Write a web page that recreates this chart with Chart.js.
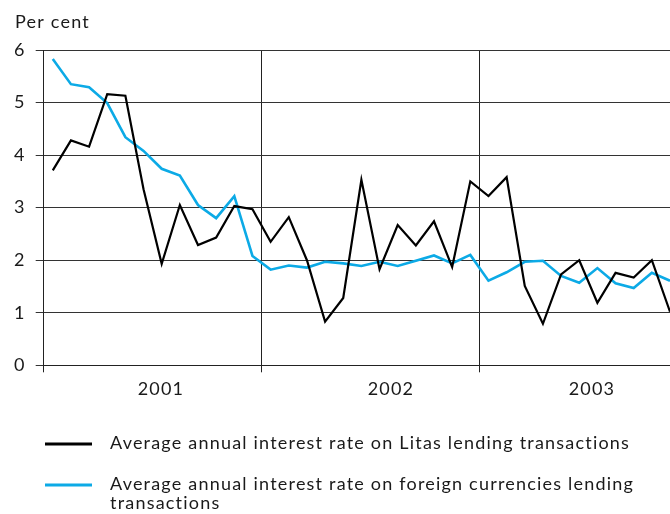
<!DOCTYPE html>
<html>
<head>
<meta charset="utf-8">
<script src="https://cdn.jsdelivr.net/npm/chart.js@4.4.1/dist/chart.umd.min.js"></script>
<style>
html,body{margin:0;padding:0;background:#fff;}
#wrap{position:relative;width:670px;height:514px;}
</style>
</head>
<body>
<div id="wrap"><canvas id="c" width="670" height="514"></canvas></div>
<script>
// ---- data ----
const months = [
 '2001-01','2001-02','2001-03','2001-04','2001-05','2001-06','2001-07','2001-08','2001-09','2001-10','2001-11','2001-12',
 '2002-01','2002-02','2002-03','2002-04','2002-05','2002-06','2002-07','2002-08','2002-09','2002-10','2002-11','2002-12',
 '2003-01','2003-02','2003-03','2003-04','2003-05','2003-06','2003-07','2003-08','2003-09','2003-10','2003-11'
];
const litas = [3.71,4.28,4.16,5.16,5.13,3.35,1.93,3.05,2.29,2.43,3.03,2.97,
               2.35,2.82,2.00,0.83,1.28,3.53,1.83,2.67,2.28,2.74,1.87,3.50,
               3.22,3.58,1.51,0.79,1.73,2.00,1.19,1.76,1.67,2.00,1.02];
const foreign = [5.83,5.35,5.29,4.99,4.34,4.08,3.74,3.61,3.05,2.80,3.22,2.08,
                 1.82,1.90,1.86,1.97,1.94,1.89,1.97,1.89,1.99,2.09,1.94,2.10,
                 1.61,1.77,1.97,1.99,1.70,1.57,1.85,1.56,1.47,1.76,1.61];
const years = ['2001','2002','2003'];
const seriesNames = ['Average annual interest rate on Litas lending transactions',
                     'Average annual interest rate on foreign currencies lending transactions'];
const yTicks = [0,1,2,3,4,5,6];
const unitLabel = 'Per cent';

// ---- options ----
const FONT = 'Lato';
const TXT = '#1a1a1a';
const SPACING = '1.2px';
const yearBoundaries = [0, 12, 24];
const yearLabelAt = [6.46, 19.13, 30.2];
const BLUE = 'rgb(12,170,230)';

const toPoints = arr => arr.map((v,i)=>({x:i+0.5, y:v}));

const spacing = {
  id:'spacing',
  beforeDraw(chart){ chart.ctx.letterSpacing = SPACING; }
};

const extras = {
  id:'extras',
  afterDraw(chart){
    const ctx = chart.ctx;
    ctx.save();
    ctx.letterSpacing = SPACING;
    ctx.fillStyle = TXT;
    ctx.font = '18px ' + FONT;
    ctx.textBaseline = 'alphabetic';
    ctx.textAlign = 'left';
    ctx.fillText(unitLabel, 15, 28);
    // legend
    const items = [
      {color:'#000', width:3, y:444, lines:[seriesNames[0]]},
      {color:BLUE, width:3, y:485, lines:['Average annual interest rate on foreign currencies lending','transactions']}
    ];
    items.forEach(it=>{
      ctx.strokeStyle = it.color;
      ctx.lineWidth = it.width;
      ctx.beginPath();
      ctx.moveTo(45, it.y);
      ctx.lineTo(92, it.y);
      ctx.stroke();
      it.lines.forEach((t,k)=>{
        ctx.fillText(t, 110, it.y + 5 + k*18.5);
      });
    });
    ctx.restore();
  }
};

new Chart(document.getElementById('c'), {
  type:'line',
  data:{
    labels: months,
    datasets:[
      {label:seriesNames[0], data:toPoints(litas), borderColor:'#000', borderWidth:2.2, pointRadius:0, tension:0, fill:false, order:1},
      {label:seriesNames[1], data:toPoints(foreign), borderColor:BLUE, borderWidth:2.6, pointRadius:0, tension:0, fill:false, order:2}
    ]
  },
  options:{
    responsive:false,
    animation:false,
    devicePixelRatio:1,
    layout:{padding:{left:0, right:0, top:50, bottom:108.7}},
    plugins:{legend:{display:false}, tooltip:{enabled:false}, title:{display:false}},
    scales:{
      x:{
        type:'linear', min:0, max:34.5,
        afterBuildTicks(scale){
          const vals = [...yearBoundaries, ...yearLabelAt].sort((a,b)=>a-b);
          scale.ticks = vals.map(v=>({value:v}));
        },
        afterFit(scale){ scale.height = 40; },
        ticks:{
          autoSkip:false, maxRotation:0, minRotation:0, padding:6,
          color:TXT, font:{family:FONT, size:18},
          callback(value){
            const k = yearLabelAt.indexOf(value);
            return k >= 0 ? years[k] : '';
          }
        },
        grid:{
          drawOnChartArea:true, drawTicks:true, tickLength:7, lineWidth:1,
          color(ctx){
            const v = ctx.tick ? ctx.tick.value : null;
            return yearBoundaries.includes(v) ? '#222' : 'rgba(0,0,0,0)';
          }
        },
        border:{display:true, color:'#222', width:1}
      },
      y:{
        min:0, max:6,
        afterBuildTicks(scale){ scale.ticks = yTicks.map(v=>({value:v})); },
        afterFit(scale){ scale.width = 43.7; },
        ticks:{stepSize:1, padding:10, color:TXT, font:{family:FONT, size:18}},
        grid:{color:'#333', lineWidth:1, tickLength:8, drawTicks:true},
        border:{display:true, color:'#222', width:1}
      }
    }
  },
  plugins:[spacing, extras]
});
</script>
</body>
</html>
